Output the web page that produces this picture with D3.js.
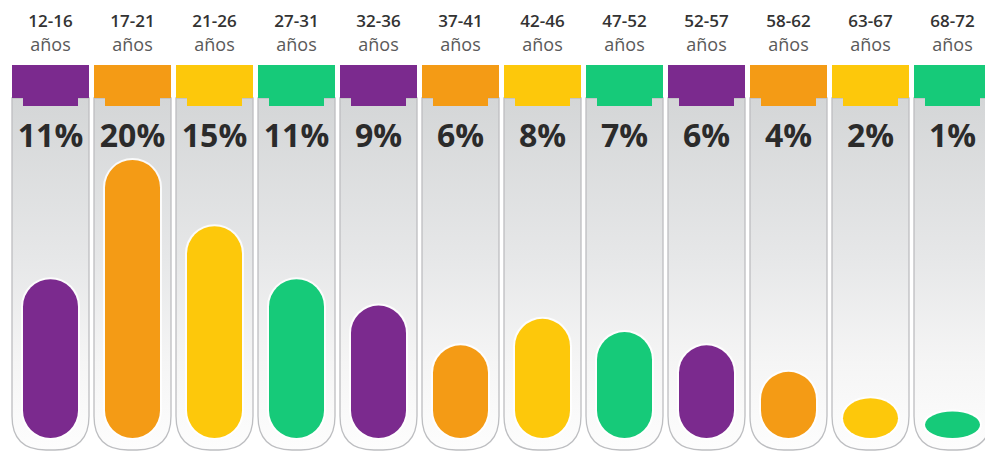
<!DOCTYPE html>
<html lang="es">
<head>
    <meta charset="UTF-8">
    <title>Edades</title>
    <script src="https://d3js.org/d3.v7.min.js"></script>
    <style>
        body {
            margin: 0;
            background: #ffffff;
            font-family: "Open Sans", Arial, sans-serif;
        }
        .range-label {
            font-size: 17px;
            font-weight: 600;
            fill: #333;
        }
        .unit-label {
            font-size: 18px;
            fill: #5a5a5a;
        }
        .pct-label {
            font-size: 32px;
            font-weight: bold;
            fill: #2b2b2b;
        }
    </style>
</head>
<body>
    <div id="chart"></div>
    <script>
        // Data
        const ranges = ["12-16", "17-21", "21-26", "27-31", "32-36", "37-41",
                        "42-46", "47-52", "52-57", "58-62", "63-67", "68-72"];
        const shares = [11, 20, 15, 11, 9, 6, 8, 7, 6, 4, 2, 1];
        const unitText = "años";
        const palette = ["#7b2a8e", "#f49b15", "#fdc80b", "#16ca79"];

        const width = 985, height = 454;
        const capTop = 65, capBottom = 98, tabBottom = 106;
        const tubeBottom = 450, liquidBottom = 438;
        const liquidWidth = 55;

        const svg = d3.select("#chart")
            .append("svg")
            .attr("width", width)
            .attr("height", height);

        // tube positions: step 82, tube 77 wide, first tube starts at x=12
        const x = d3.scaleBand()
            .domain(ranges)
            .range([9.5, 9.5 + 82 * ranges.length])
            .paddingInner(5 / 82)
            .paddingOuter(2.5 / 82);

        // liquid level
        const y = d3.scaleLinear()
            .domain([-1, 20])
            .range([liquidBottom, 160]);

        const color = (d, i) => palette[i % palette.length];

        const defs = svg.append("defs");
        const grad = defs.append("linearGradient")
            .attr("id", "glass")
            .attr("gradientUnits", "userSpaceOnUse")
            .attr("x1", 0).attr("y1", capBottom)
            .attr("x2", 0).attr("y2", tubeBottom);
        grad.append("stop").attr("offset", "0%").attr("stop-color", "#d4d6d7");
        grad.append("stop").attr("offset", "45%").attr("stop-color", "#e6e7e8");
        grad.append("stop").attr("offset", "75%").attr("stop-color", "#f5f5f5");
        grad.append("stop").attr("offset", "100%").attr("stop-color", "#fdfdfd");

        const cols = svg.selectAll(".col")
            .data(ranges)
            .join("g")
            .attr("class", "col");

        // glass body with rounded bottom
        cols.append("path")
            .attr("d", d => {
                const x0 = x(d), x1 = x(d) + x.bandwidth(), r = 34;
                return `M${x0},${capBottom} L${x0},${tubeBottom - r}
                        Q${x0},${tubeBottom} ${x0 + r},${tubeBottom}
                        L${x1 - r},${tubeBottom}
                        Q${x1},${tubeBottom} ${x1},${tubeBottom - r}
                        L${x1},${capBottom} Z`;
            })
            .attr("fill", "url(#glass)")
            .attr("stroke", "#bdbec1")
            .attr("stroke-width", 1.3);

        // cap
        cols.append("path")
            .attr("d", d => {
                const x0 = x(d), x1 = x(d) + x.bandwidth();
                const t0 = x0 + 11, t1 = x1 - 11;
                return `M${x0},${capTop} L${x1},${capTop} L${x1},${capBottom}
                        L${t1},${capBottom} L${t1},${tabBottom}
                        L${t0},${tabBottom} L${t0},${capBottom}
                        L${x0},${capBottom} Z`;
            })
            .attr("fill", color);

        // liquid
        cols.append("rect")
            .attr("x", d => x(d) + (x.bandwidth() - liquidWidth) / 2)
            .attr("width", liquidWidth)
            .attr("y", (d, i) => y(shares[i]))
            .attr("height", (d, i) => liquidBottom - y(shares[i]))
            .attr("rx", liquidWidth / 2)
            .attr("ry", (d, i) => Math.min(liquidWidth / 2, (liquidBottom - y(shares[i])) / 2))
            .attr("fill", color)
            .attr("stroke", "#ffffff")
            .attr("stroke-opacity", 0.85)
            .attr("stroke-width", 4)
            .attr("paint-order", "stroke");

        // labels
        cols.append("text")
            .attr("class", "range-label")
            .attr("x", d => x(d) + x.bandwidth() / 2)
            .attr("y", 27)
            .attr("text-anchor", "middle")
            .text(d => d);

        cols.append("text")
            .attr("class", "unit-label")
            .attr("x", d => x(d) + x.bandwidth() / 2)
            .attr("y", 51)
            .attr("text-anchor", "middle")
            .text(unitText);

        cols.append("text")
            .attr("class", "pct-label")
            .attr("x", d => x(d) + x.bandwidth() / 2)
            .attr("y", 147)
            .attr("text-anchor", "middle")
            .text((d, i) => shares[i] + "%");
    </script>
</body>
</html>
